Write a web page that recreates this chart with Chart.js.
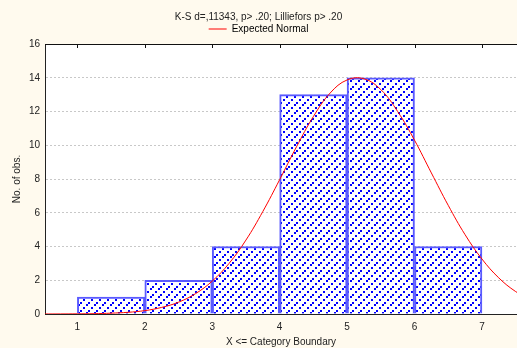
<!DOCTYPE html>
<html>
<head>
<meta charset="utf-8">
<script src="https://cdn.jsdelivr.net/npm/chart.js@4.4.0/dist/chart.umd.min.js"></script>
<style>
  html, body { margin: 0; padding: 0; background: #fffaee; }
  #wrap { width: 517px; height: 348px; }
</style>
</head>
<body>
<div id="wrap"><canvas id="myChart" width="517" height="348"></canvas></div>
<script>
'use strict'

// histogram data (bin boundaries and counts)
const boundaries = [1, 2, 3, 4, 5, 6, 7];
const counts = [1, 2, 4, 13, 14, 4];

// expected normal curve
const curveX = [0.5, 0.75, 1, 1.25, 1.5, 1.75, 2, 2.25, 2.5, 2.75, 3, 3.25, 3.5, 3.75, 4,
  4.25, 4.5, 4.75, 5, 5.25, 5.5, 5.75, 6, 6.25, 6.5, 6.75, 7, 7.25, 7.5, 7.75];
const curveY = [0.001, 0.004, 0.01, 0.02, 0.05, 0.1, 0.2, 0.39, 0.7, 1.2, 1.95, 3.0, 4.38, 6.07, 7.96,
  9.91, 11.7, 13.1, 13.87, 13.94, 13.3, 12.0, 10.3, 8.36, 6.44, 4.7, 3.26, 2.14, 1.33, 0.78];

const yTicks = [0, 2, 4, 6, 8, 10, 12, 14, 16];
const xTicks = [1, 2, 3, 4, 5, 6, 7];

const titleText = 'K-S d=,11343, p> .20; Lilliefors p> .20';
const legendText = 'Expected Normal';
const xTitle = 'X <= Category Boundary';
const yTitle = 'No. of obs.';

// hatch pattern for the bars (diagonal rows of small squares)
const pc = document.createElement('canvas');
pc.width = 8;
pc.height = 8;
const pctx = pc.getContext('2d');
pctx.fillStyle = '#ffffff';
pctx.fillRect(0, 0, 8, 8);
pctx.fillStyle = '#0000ff';
pctx.fillRect(0, 6, 2, 2);
pctx.fillRect(3, 3, 2, 2);
pctx.fillRect(6, 0, 2, 2);

const ctx = document.getElementById('myChart').getContext('2d');
const hatch = ctx.createPattern(pc, 'repeat');

let barData = [];
for (let i = 0; i < counts.length; i++) {
  barData.push({ x: (boundaries[i] + boundaries[i + 1]) / 2, y: counts[i] });
}
let curveData = curveX.map(function (x, i) { return { x: x, y: curveY[i] }; });

const FONT = 'Liberation Sans, Arial, sans-serif';

// backgrounds and top border with its ticks
const frame = {
  id: 'frame',
  beforeDraw(chart) {
    const c = chart.ctx;
    const a = chart.chartArea;
    c.save();
    c.fillStyle = '#fffaee';
    c.fillRect(0, 0, chart.width, chart.height);
    c.fillStyle = '#ffffff';
    c.fillRect(a.left, a.top, a.right - a.left, a.bottom - a.top);
    c.restore();
  },
  afterDatasetsDraw(chart) {
    const c = chart.ctx;
    const a = chart.chartArea;
    const xs = chart.scales.x;
    c.save();
    c.strokeStyle = '#111111';
    c.lineWidth = 1;
    c.beginPath();
    c.moveTo(a.left, a.top + 0.5);
    c.lineTo(a.right, a.top + 0.5);
    xTicks.forEach(function (t) {
      const px = Math.round(xs.getPixelForValue(t)) + 0.5;
      c.moveTo(px, a.top);
      c.lineTo(px, a.top + 4);
    });
    c.stroke();
    c.restore();
  }
};

const myChart = new Chart(ctx, {
  type: 'bar',
  data: {
    datasets: [{
      type: 'line',
      label: legendText,
      data: curveData,
      borderColor: '#ff0000',
      borderWidth: 1,
      pointRadius: 0,
      tension: 0.4,
      fill: false,
      order: 0
    }, {
      type: 'bar',
      label: 'obs',
      data: barData,
      backgroundColor: hatch,
      borderColor: '#5a5aff',
      borderWidth: 2,
      barPercentage: 1,
      categoryPercentage: 1,
      order: 1
    }]
  },
  options: {
    responsive: false,
    animation: false,
    layout: { padding: { left: 0, right: 0, top: 0, bottom: 0 } },
    plugins: {
      tooltip: { enabled: false },
      title: {
        display: true,
        text: titleText,
        color: '#222222',
        font: { family: FONT, size: 10, weight: 'normal' },
        padding: { top: 11, bottom: 0 }
      },
      legend: {
        display: true,
        labels: {
          color: '#222222',
          font: { family: FONT, size: 10 },
          boxWidth: 18,
          boxHeight: 1,
          padding: 1,
          generateLabels: function (chart) {
            return [{ text: legendText, fillStyle: '#ff0000', strokeStyle: '#ff0000', lineWidth: 0, datasetIndex: 0 }];
          }
        }
      }
    },
    scales: {
      x: {
        type: 'linear',
        min: 0.52,
        max: 7.52,
        offset: false,
        afterBuildTicks: function (scale) {
          scale.ticks = xTicks.map(function (v) { return { value: v }; });
        },
        afterFit: function (scale) { scale.height = 34; },
        grid: { display: false, drawTicks: false },
        border: { display: true, color: '#222222', width: 1 },
        ticks: {
          color: '#222222',
          font: { family: FONT, size: 10 },
          padding: 7,
          maxRotation: 0
        },
        title: {
          display: true,
          text: xTitle,
          color: '#222222',
          font: { family: FONT, size: 10 },
          padding: { top: 0, bottom: 0 }
        }
      },
      y: {
        min: 0,
        max: 16,
        afterBuildTicks: function (scale) {
          scale.ticks = yTicks.map(function (v) { return { value: v }; });
        },
        afterFit: function (scale) { scale.width = 45; },
        grid: {
          color: '#c8c8c8',
          drawTicks: false
        },
        border: { display: true, color: '#222222', width: 1, dash: [2, 2] },
        ticks: {
          color: '#222222',
          font: { family: FONT, size: 10 },
          padding: 5
        },
        title: {
          display: true,
          text: yTitle,
          color: '#222222',
          font: { family: FONT, size: 10 },
          padding: { top: 11, bottom: 0 }
        }
      }
    }
  },
  plugins: [frame]
});
</script>
</body>
</html>
